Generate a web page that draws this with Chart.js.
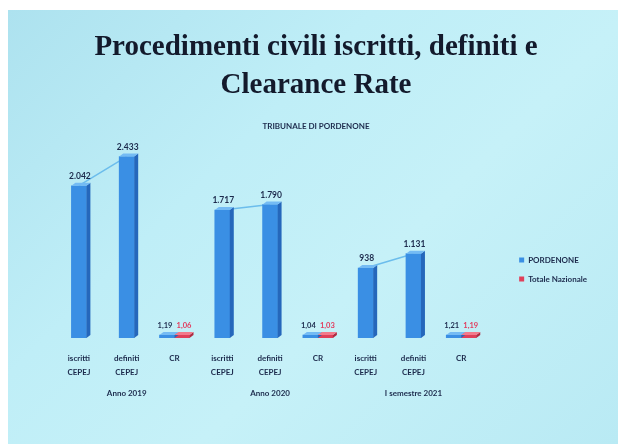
<!DOCTYPE html>
<html lang="it">
<head>
<meta charset="utf-8">
<script src="https://cdn.jsdelivr.net/npm/chart.js@4.4.0/dist/chart.umd.min.js"></script>
<style>
  html, body { margin: 0; padding: 0; background: #fff; }
  body { width: 618px; height: 444px; overflow: hidden; position: relative; }
  .slide {
    position: absolute; left: 8px; top: 10px; width: 610px; height: 434px;
    background: linear-gradient(135deg, #ade2ef 0%, #bfeef7 35%, #c6f1f8 60%, #b9eaf4 100%);
  }
  canvas { display: block; }
</style>
</head>
<body>
<div class="slide"><canvas id="crChart"></canvas></div>
<script>
const periods = ['Anno 2019', 'Anno 2020', 'I semestre 2021'];
const subLabels = [['iscritti', 'CEPEJ'], ['definiti', 'CEPEJ'], 'CR'];
const iscritti = [2042, 1717, 938];
const definiti = [2433, 1790, 1131];
const crPordenone = [1.19, 1.04, 1.21];
const crNazionale = [1.06, 1.03, 1.19];
const seriesNames = ['PORDENONE', 'Totale Nazionale'];

const textColor = '#1c2a4c';
const smallFont = { family: 'Lato', size: 8, weight: 'bold' };

// flatten into 9 categories (iscritti, definiti, CR per period)
const labels = [], pordenone = [], nazionale = [], trend = [];
periods.forEach((p, i) => {
  labels.push(...subLabels);
  pordenone.push(iscritti[i], definiti[i], crPordenone[i]);
  nazionale.push(null, null, crNazionale[i]);
  trend.push(iscritti[i], definiti[i], null);
});

const faces = [
  { side: '#2567bb', top: '#74bbf4', label: textColor, dx: -2 },
  { side: '#b02a40', top: '#f27a8c', label: '#e23a5c', dx: 2 }
];

function fmt(v) {
  if (v < 100) return v.toFixed(2).replace('.', ',');
  return String(v).replace(/\B(?=(\d{3})+(?!\d))/g, '.');
}

// fake 3D: right side + top face for each bar
const bar3d = {
  id: 'bar3d',
  afterDatasetsDraw(chart) {
    const ctx = chart.ctx;
    const D = 4, R = 3;
    [0, 1].forEach(di => {
      const meta = chart.getDatasetMeta(di);
      const ds = chart.data.datasets[di];
      meta.data.forEach((bar, i) => {
        if (ds.data[i] == null) return;
        const { x, y, base, width } = bar.getProps(['x', 'y', 'base', 'width'], true);
        const l = x - width / 2, r = x + width / 2;
        ctx.save();
        ctx.fillStyle = faces[di].side;
        ctx.beginPath();
        ctx.moveTo(r, y); ctx.lineTo(r + D, y - R); ctx.lineTo(r + D, base - R); ctx.lineTo(r, base);
        ctx.closePath(); ctx.fill();
        ctx.fillStyle = faces[di].top;
        ctx.beginPath();
        ctx.moveTo(l, y); ctx.lineTo(l + D, y - R); ctx.lineTo(r + D, y - R); ctx.lineTo(r, y);
        ctx.closePath(); ctx.fill();
        ctx.restore();
      });
    });
  }
};

const valueLabels = {
  id: 'valueLabels',
  afterDatasetsDraw(chart) {
    const ctx = chart.ctx;
    ctx.save();
    ctx.textAlign = 'center';
    ctx.textBaseline = 'middle';
    [0, 1].forEach(di => {
      const meta = chart.getDatasetMeta(di);
      const ds = chart.data.datasets[di];
      ctx.fillStyle = faces[di].label;
      meta.data.forEach((bar, i) => {
        const v = ds.data[i];
        if (v == null) return;
        if (v < 100) {
          ctx.font = 'bold 7.5px Lato';
          ctx.fillText(fmt(v), bar.x + faces[di].dx, bar.y - 9.5);
        } else {
          ctx.font = 'bold 8.5px Lato';
          ctx.fillText(fmt(v), bar.x + 1, bar.y - 9.5);
        }
      });
    });
    ctx.restore();
  }
};

// period names under the middle category of each group
const groupLabels = {
  id: 'groupLabels',
  afterDraw(chart) {
    const ctx = chart.ctx;
    const xs = chart.scales.x;
    ctx.save();
    ctx.font = 'bold 8px Lato';
    ctx.fillStyle = textColor;
    ctx.textAlign = 'center';
    ctx.textBaseline = 'middle';
    periods.forEach((p, i) => {
      ctx.fillText(p, xs.getPixelForValue(i * 3 + 1), xs.bottom + 1);
    });
    ctx.restore();
  }
};

new Chart(document.getElementById('crChart'), {
  type: 'bar',
  data: {
    labels: labels,
    datasets: [
      {
        label: seriesNames[0],
        data: pordenone,
        backgroundColor: '#3a8fe4',
        barThickness: 15,
        minBarLength: 3,
        skipNull: true,
        order: 1
      },
      {
        label: seriesNames[1],
        data: nazionale,
        backgroundColor: '#e0405a',
        barThickness: 15,
        minBarLength: 3,
        skipNull: true,
        order: 1
      },
      {
        type: 'line',
        label: 'trend',
        data: trend,
        borderColor: '#6cbdec',
        borderWidth: 1.5,
        pointRadius: 0,
        spanGaps: false,
        order: 2
      }
    ]
  },
  options: {
    responsive: true,
    maintainAspectRatio: false,
    animation: false,
    layout: { padding: { left: 27, right: 21, top: 0, bottom: 52 } },
    plugins: {
      title: {
        display: true,
        text: ['Procedimenti civili iscritti, definiti e', 'Clearance Rate'],
        color: '#131a2c',
        font: { family: 'Liberation Serif', size: 29, weight: 'bold', lineHeight: 1.31 },
        padding: { top: 19, bottom: 0 }
      },
      subtitle: {
        display: true,
        text: 'TRIBUNALE DI PORDENONE',
        color: textColor,
        font: smallFont,
        padding: { top: 17, bottom: 20 }
      },
      legend: {
        position: 'right',
        fullSize: false,
        align: 'center',
        title: { display: true, text: '', padding: { top: 35, bottom: 0 }, font: { size: 12 } },
        labels: {
          boxWidth: 5,
          boxHeight: 5,
          padding: 11,
          color: textColor,
          font: smallFont,
          filter: item => item.datasetIndex < 2
        }
      },
      tooltip: { enabled: false }
    },
    scales: {
      x: {
        offset: true,
        grid: { display: false, drawTicks: false },
        border: { display: false },
        ticks: {
          color: textColor,
          font: { family: 'Lato', size: 8, weight: 'bold', lineHeight: 1.75 },
          padding: 13,
          maxRotation: 0,
          autoSkip: false
        }
      },
      y: {
        min: 0,
        max: 2500,
        grid: { display: false },
        border: { display: false },
        ticks: { display: false },
        afterFit: s => { s.width = 20; }
      },
      y2: {
        position: 'right',
        grid: { display: false },
        border: { display: false },
        ticks: { display: false },
        afterFit: s => { s.width = 23; }
      }
    }
  },
  plugins: [bar3d, valueLabels, groupLabels]
});
</script>
</body>
</html>
